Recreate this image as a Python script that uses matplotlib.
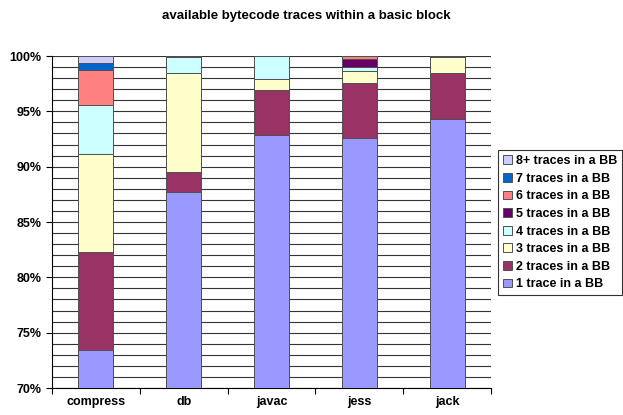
import matplotlib
matplotlib.use("Agg")
import matplotlib.pyplot as plt
import numpy as np
from matplotlib.ticker import MultipleLocator, FuncFormatter

plt.rcParams['font.family'] = ['Liberation Sans', 'DejaVu Sans']

categories = ["compress", "db", "javac", "jess", "jack"]
series_names = ["1 trace in a BB", "2 traces in a BB", "3 traces in a BB", "4 traces in a BB",
                "5 traces in a BB", "6 traces in a BB", "7 traces in a BB", "8+ traces in a BB"]
one_trace   = [73.4, 87.7, 92.9, 92.6, 94.3]
two_traces  = [8.9, 1.8, 4.05, 4.95, 4.15]
three_traces = [8.85, 8.95, 1.0, 1.1, 1.45]
four_traces = [4.43, 1.45, 2.05, 0.35, 0.0]
five_traces = [0.0, 0.1, 0.0, 0.75, 0.1]
six_traces  = [3.2, 0.0, 0.0, 0.25, 0.0]
seven_traces = [0.63, 0.0, 0.0, 0.0, 0.0]
eight_plus  = [0.59, 0.0, 0.05, 0.0, 0.0]
colors = ["#9999FF", "#993366", "#FFFFCC", "#CCFFFF", "#660066", "#FF8080", "#0066CC", "#CCCCFF"]

series = [one_trace, two_traces, three_traces, four_traces, five_traces,
          six_traces, seven_traces, eight_plus]

fig = plt.figure(figsize=(6.23, 4.15), dpi=100)
ax = fig.add_axes([52/623, 27/415, 439/623, 332/415])

x = np.arange(len(categories))
bottom = np.zeros(len(categories))
handles = []
for vals, c, name in zip(series, colors, series_names):
    v = np.array(vals)
    b = ax.bar(x, v, bottom=bottom, width=0.4, color=c, edgecolor="#505050",
               linewidth=0.7, label=name, zorder=3)
    handles.append(b)
    bottom += v

ax.set_ylim(70, 100)
ax.set_xlim(-0.5, len(categories) - 0.5)
ax.yaxis.set_major_locator(MultipleLocator(5))
ax.yaxis.set_minor_locator(MultipleLocator(1))
ax.yaxis.set_major_formatter(FuncFormatter(lambda v, p: f"{int(round(v))}%"))
ax.grid(axis='y', which='both', color='#333333', linewidth=0.8, zorder=0)
ax.set_axisbelow(True)
ax.tick_params(axis='y', which='major', length=4, labelsize=9, width=0.8)
ax.tick_params(axis='y', which='minor', length=0)
for lab in ax.get_yticklabels():
    lab.set_fontweight('bold')

ax.set_xticks(x)
ax.set_xticklabels(categories, fontweight='bold', fontsize=9)
ax.tick_params(axis='x', which='major', length=0, pad=6)
ax.set_xticks(np.arange(len(categories) + 1) - 0.5, minor=True)
ax.tick_params(axis='x', which='minor', length=4, width=0.8, direction='out')

for s in ['top', 'right']:
    ax.spines[s].set_visible(False)
ax.spines['left'].set_linewidth(0.8)
ax.spines['bottom'].set_linewidth(0.8)

fig.text(306/623, 1 - 16/415, "available bytecode traces within a basic block",
         ha='center', va='center', fontsize=9.5, fontweight='bold')

leg = fig.legend(handles[::-1], series_names[::-1], loc='upper left',
                 bbox_to_anchor=(498/623, 1 - 150/415), frameon=True, fancybox=False,
                 edgecolor='black', prop={'weight': 'bold', 'size': 9},
                 handlelength=0.7, handleheight=0.7, handletextpad=0.3,
                 labelspacing=0.45, borderpad=0.4, borderaxespad=0)
leg.get_frame().set_linewidth(0.8)

fig.savefig("out.png", dpi=100)
